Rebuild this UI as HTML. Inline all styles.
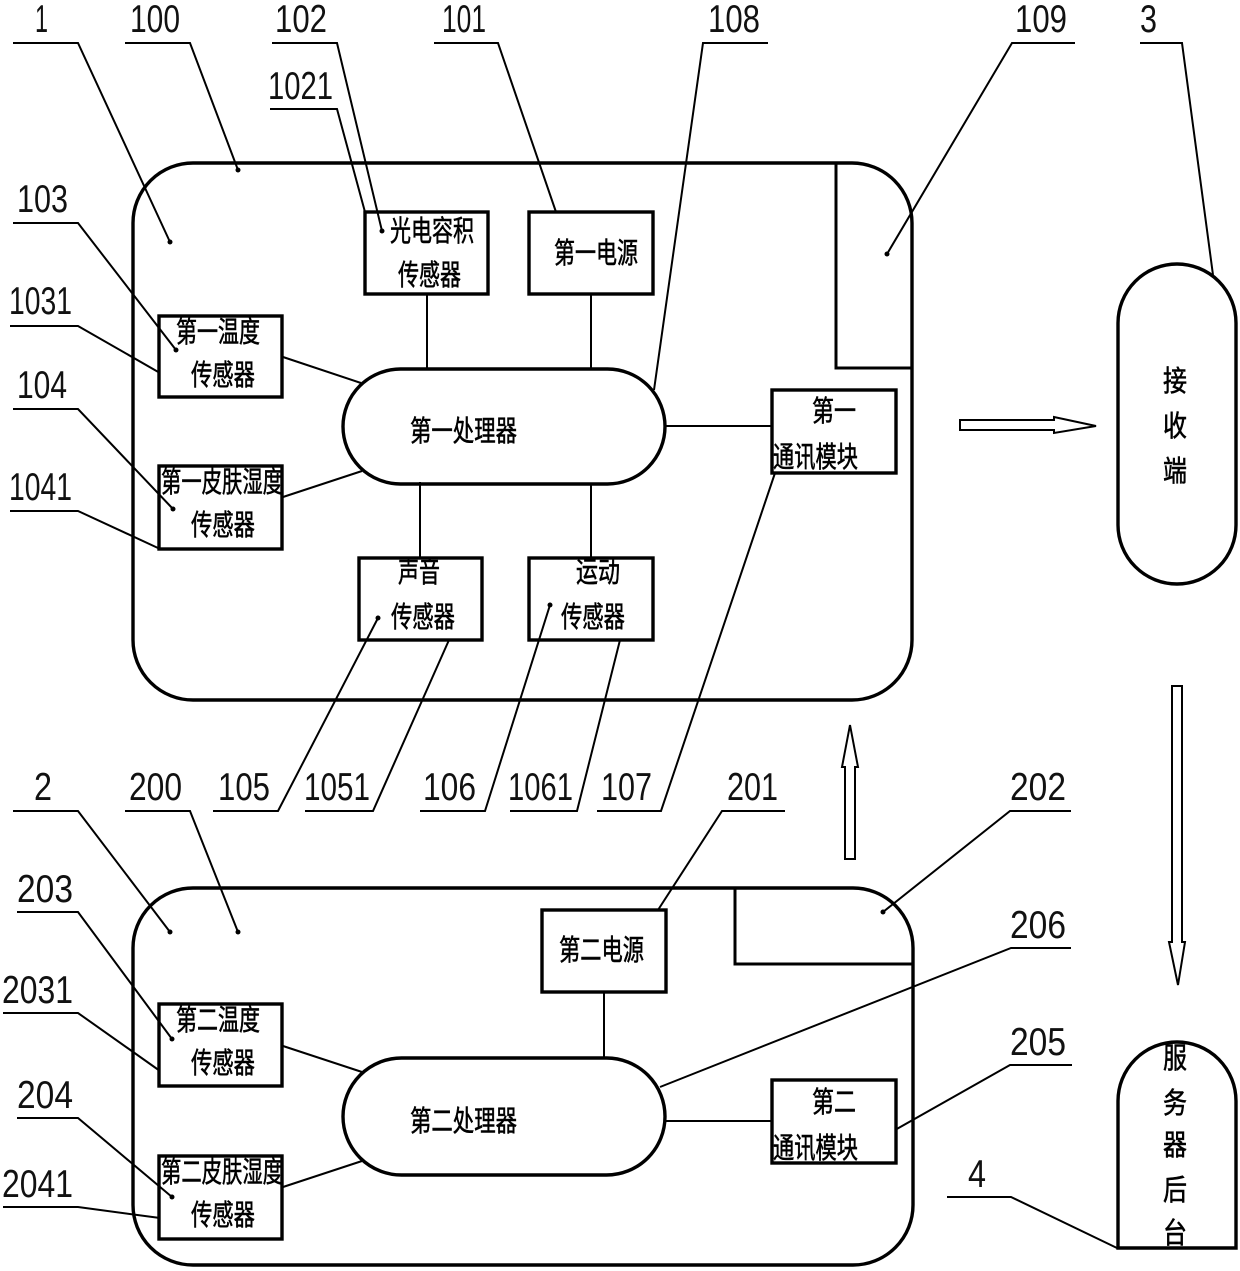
<!DOCTYPE html>
<html><head><meta charset="utf-8"><style>
html,body{margin:0;padding:0;background:#fff}
svg{display:block}
.n{font-family:"Liberation Sans",sans-serif;font-size:39px;fill:#111}
.c{font-family:"Liberation Sans","Noto Sans CJK SC",sans-serif;font-size:29px;fill:#000;stroke:#000;stroke-width:.55}
.t{fill:none;stroke:#000;stroke-width:3.4}
.l{fill:none;stroke:#000;stroke-width:2}
.a{fill:#fff;stroke:#000;stroke-width:2}
</style></head><body>
<svg width="1240" height="1271" viewBox="0 0 1240 1271" xmlns="http://www.w3.org/2000/svg">
<!-- main containers -->
<rect class="t" x="133" y="163" width="779" height="537" rx="60"/>
<path class="t" d="M836 163V368H912" style="stroke-width:3"/>
<rect class="t" x="133" y="888" width="780" height="377" rx="60"/>
<path class="t" d="M735 888V964H912" style="stroke-width:3"/>
<!-- connectors -->
<g class="l">
<path d="M427 294V369M591 294V369M283 357L361 383M283 497L362 471M420 482V558M591 484V558M665 426H772"/>
<path d="M604 992V1058M283 1046L362 1072M283 1187L362 1161M665 1121H772"/>
</g>
<!-- boxes upper -->
<g class="t">
<rect x="365" y="212" width="123" height="82"/>
<rect x="529" y="212" width="124" height="82"/>
<rect x="159" y="316" width="123" height="81"/>
<rect x="159" y="466" width="123" height="83"/>
<rect x="359" y="558" width="123" height="82"/>
<rect x="529" y="558" width="124" height="82"/>
<rect x="772" y="390" width="124" height="83"/>
<rect x="343" y="369" width="322" height="115" rx="57.5"/>
<rect x="1118" y="264" width="118" height="320" rx="59"/>
<path d="M1118 1248V1101A59 59 0 0 1 1236 1101V1248Z"/>
<rect x="542" y="910" width="124" height="82"/>
<rect x="159" y="1004" width="123" height="82"/>
<rect x="159" y="1156" width="123" height="83"/>
<rect x="772" y="1080" width="124" height="83"/>
<rect x="343" y="1058" width="322" height="117" rx="58.5"/>
</g>
<!-- leaders -->
<g class="l">
<path d="M13 43H78L170 242"/>
<path d="M125 43H190L238 170"/>
<path d="M272 43H337L382 231"/>
<path d="M270 109H337L365 212"/>
<path d="M434 43H498L556 212"/>
<path d="M768 43H703L654 390"/>
<path d="M1075 43H1012L887 254"/>
<path d="M1140 43H1182L1213 275"/>
<path d="M13 223H78L176 350"/>
<path d="M10 326H78L160 373"/>
<path d="M13 409H78L173 509"/>
<path d="M10 511H78L158 548"/>
<path d="M213 811H278L378 618"/>
<path d="M305 811H373L449 640"/>
<path d="M420 811H485L550 605"/>
<path d="M510 811H577L620 640"/>
<path d="M597 811H661L775 473"/>
<path d="M13 811H78L170 932"/>
<path d="M125 811H190L238 932"/>
<path d="M785 811H722L658 910"/>
<path d="M1071 811H1010L883 912"/>
<path d="M1071 948H1011L660 1087"/>
<path d="M1072 1065H1010L895 1130"/>
<path d="M947 1197H1011L1117 1248"/>
<path d="M17 912H78L172 1039"/>
<path d="M3 1013H78L160 1071"/>
<path d="M17 1118H78L172 1197"/>
<path d="M3 1207H78L160 1218"/>
</g>
<g fill="#000">
<circle cx="170" cy="242" r="2.5"/><circle cx="238" cy="170" r="2.5"/><circle cx="382" cy="231" r="2.5"/><circle cx="887" cy="254" r="2.5"/>
<circle cx="176" cy="350" r="2.5"/><circle cx="173" cy="509" r="2.5"/><circle cx="378" cy="618" r="2.5"/><circle cx="550" cy="605" r="2.5"/>
<circle cx="170" cy="932" r="2.5"/><circle cx="238" cy="932" r="2.5"/><circle cx="883" cy="912" r="2.5"/><circle cx="172" cy="1039" r="2.5"/><circle cx="172" cy="1197" r="2.5"/>
</g>
<!-- block arrows -->
<path class="a" d="M960 420H1054V417L1096 426L1054 433V430H960Z"/>
<path class="a" d="M845 859V767H842L850 725L858 767H855V859Z"/>
<path class="a" d="M1172 686H1182V942H1185L1178 985L1169 942H1172Z"/>
<!-- numbers -->
<g class="n">
<text x="35" y="32" textLength="13" lengthAdjust="spacingAndGlyphs">1</text>
<text x="130" y="32" textLength="50" lengthAdjust="spacingAndGlyphs">100</text>
<text x="275" y="32" textLength="52" lengthAdjust="spacingAndGlyphs">102</text>
<text x="268" y="99" textLength="65" lengthAdjust="spacingAndGlyphs">1021</text>
<text x="442" y="32" textLength="44" lengthAdjust="spacingAndGlyphs">101</text>
<text x="708" y="32" textLength="52" lengthAdjust="spacingAndGlyphs">108</text>
<text x="1015" y="32" textLength="52" lengthAdjust="spacingAndGlyphs">109</text>
<text x="1140" y="32" textLength="17" lengthAdjust="spacingAndGlyphs">3</text>
<text x="17" y="212" textLength="51" lengthAdjust="spacingAndGlyphs">103</text>
<text x="9" y="314" textLength="63" lengthAdjust="spacingAndGlyphs">1031</text>
<text x="17" y="398" textLength="50" lengthAdjust="spacingAndGlyphs">104</text>
<text x="9" y="500" textLength="63" lengthAdjust="spacingAndGlyphs">1041</text>
<text x="218" y="800" textLength="52" lengthAdjust="spacingAndGlyphs">105</text>
<text x="304" y="800" textLength="66" lengthAdjust="spacingAndGlyphs">1051</text>
<text x="423" y="800" textLength="53" lengthAdjust="spacingAndGlyphs">106</text>
<text x="508" y="800" textLength="65" lengthAdjust="spacingAndGlyphs">1061</text>
<text x="601" y="800" textLength="51" lengthAdjust="spacingAndGlyphs">107</text>
<text x="34" y="800" textLength="18" lengthAdjust="spacingAndGlyphs">2</text>
<text x="129" y="800" textLength="53" lengthAdjust="spacingAndGlyphs">200</text>
<text x="727" y="800" textLength="51" lengthAdjust="spacingAndGlyphs">201</text>
<text x="1010" y="800" textLength="56" lengthAdjust="spacingAndGlyphs">202</text>
<text x="1010" y="938" textLength="56" lengthAdjust="spacingAndGlyphs">206</text>
<text x="1010" y="1055" textLength="56" lengthAdjust="spacingAndGlyphs">205</text>
<text x="968" y="1187" textLength="18" lengthAdjust="spacingAndGlyphs">4</text>
<text x="17" y="902" textLength="56" lengthAdjust="spacingAndGlyphs">203</text>
<text x="2" y="1003" textLength="71" lengthAdjust="spacingAndGlyphs">2031</text>
<text x="17" y="1108" textLength="56" lengthAdjust="spacingAndGlyphs">204</text>
<text x="2" y="1197" textLength="71" lengthAdjust="spacingAndGlyphs">2041</text>
</g>
<!-- labels -->
<g class="c">
<text x="390" y="241" textLength="84" lengthAdjust="spacingAndGlyphs">光电容积</text>
<text x="398" y="285" textLength="63" lengthAdjust="spacingAndGlyphs">传感器</text>
<text x="554" y="263" textLength="84" lengthAdjust="spacingAndGlyphs">第一电源</text>
<text x="176" y="342" textLength="84" lengthAdjust="spacingAndGlyphs">第一温度</text>
<text x="191" y="385" textLength="64" lengthAdjust="spacingAndGlyphs">传感器</text>
<text x="161" y="492" textLength="122" lengthAdjust="spacingAndGlyphs">第一皮肤湿度</text>
<text x="191" y="535" textLength="64" lengthAdjust="spacingAndGlyphs">传感器</text>
<text x="410" y="441" textLength="107" lengthAdjust="spacingAndGlyphs">第一处理器</text>
<text x="398" y="582" textLength="42" lengthAdjust="spacingAndGlyphs">声音</text>
<text x="391" y="627" textLength="64" lengthAdjust="spacingAndGlyphs">传感器</text>
<text x="576" y="582" textLength="44" lengthAdjust="spacingAndGlyphs">运动</text>
<text x="561" y="627" textLength="64" lengthAdjust="spacingAndGlyphs">传感器</text>
<text x="812" y="421" textLength="44" lengthAdjust="spacingAndGlyphs">第一</text>
<text x="773" y="467" textLength="85" lengthAdjust="spacingAndGlyphs">通讯模块</text>
<text x="559" y="960" textLength="85" lengthAdjust="spacingAndGlyphs">第二电源</text>
<text x="176" y="1030" textLength="84" lengthAdjust="spacingAndGlyphs">第二温度</text>
<text x="191" y="1073" textLength="64" lengthAdjust="spacingAndGlyphs">传感器</text>
<text x="161" y="1182" textLength="122" lengthAdjust="spacingAndGlyphs">第二皮肤湿度</text>
<text x="191" y="1225" textLength="64" lengthAdjust="spacingAndGlyphs">传感器</text>
<text x="410" y="1131" textLength="107" lengthAdjust="spacingAndGlyphs">第二处理器</text>
<text x="812" y="1112" textLength="44" lengthAdjust="spacingAndGlyphs">第二</text>
<text x="773" y="1158" textLength="85" lengthAdjust="spacingAndGlyphs">通讯模块</text>
<text x="1163" y="391" textLength="24" lengthAdjust="spacingAndGlyphs">接</text>
<text x="1163" y="436" textLength="24" lengthAdjust="spacingAndGlyphs">收</text>
<text x="1163" y="481" textLength="24" lengthAdjust="spacingAndGlyphs">端</text>
<text x="1163" y="1068" textLength="24" lengthAdjust="spacingAndGlyphs">服</text>
<text x="1163" y="1113" textLength="24" lengthAdjust="spacingAndGlyphs">务</text>
<text x="1163" y="1155" textLength="24" lengthAdjust="spacingAndGlyphs">器</text>
<text x="1163" y="1200" textLength="24" lengthAdjust="spacingAndGlyphs">后</text>
<text x="1163" y="1243" textLength="24" lengthAdjust="spacingAndGlyphs">台</text>
</g>
</svg>
</body></html>
